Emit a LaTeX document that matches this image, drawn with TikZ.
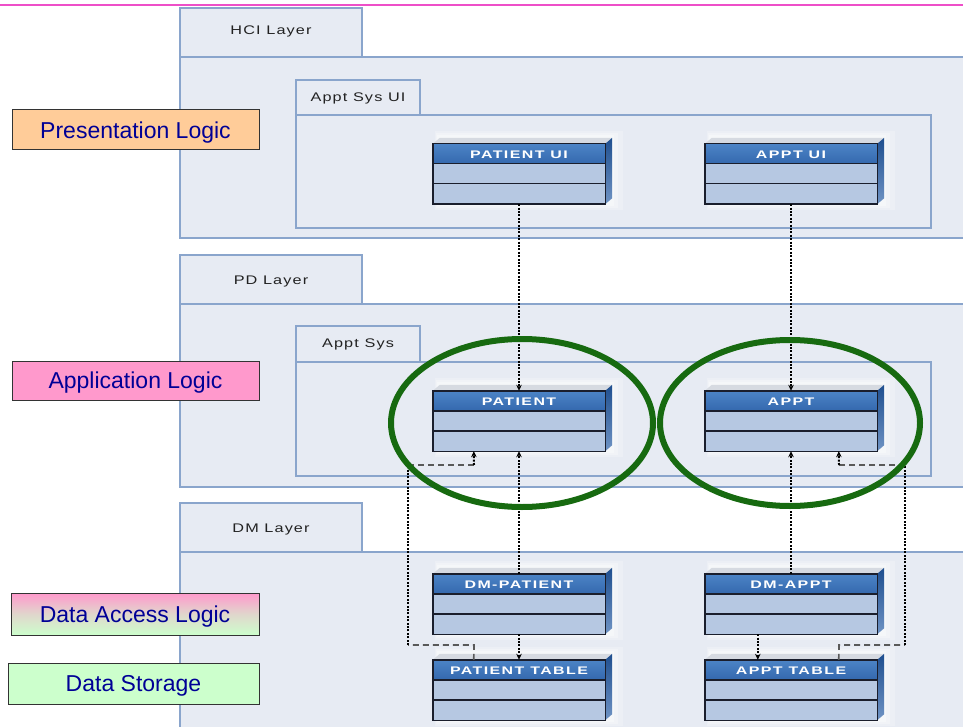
\documentclass[tikz,border=0pt]{standalone}
\usepackage{fontspec}
\setmainfont{Liberation Sans}
\newfontfamily\tabfont{Liberation Sans}[FakeStretch=1.3,LetterSpace=9]
\newfontfamily\headfont{Liberation Sans}[FakeStretch=1.45,LetterSpace=13]
\usetikzlibrary{arrows.meta,calc}

\definecolor{layerfill}{HTML}{E7EBF3}
\definecolor{layerline}{HTML}{8AA5CC}
\definecolor{headblue}{HTML}{3468AE}
\definecolor{headtop}{HTML}{4C84C6}
\definecolor{rowblue}{HTML}{B6C8E2}
\definecolor{sidetop}{HTML}{1F4F8F}
\definecolor{sidebot}{HTML}{6F93C4}
\definecolor{topface}{HTML}{D6DAE1}
\definecolor{edgedark}{HTML}{1A1E2C}
\definecolor{ringgreen}{HTML}{176A10}
\definecolor{labtext}{HTML}{000096}
\definecolor{peach}{HTML}{FFCC99}
\definecolor{pinklab}{HTML}{FF99CC}
\definecolor{greenlab}{HTML}{CCFFCC}
\definecolor{topline}{HTML}{EE4FC8}
\definecolor{tabtextcol}{HTML}{222222}

\tikzset{
  layerbox/.style={fill=layerfill,draw=layerline,line width=1.3pt},
  tabtext/.style={font=\tabfont\fontsize{12.5}{14}\selectfont,text=tabtextcol,inner sep=0pt},
  classframe/.style={rectangle,minimum width=172pt,minimum height=60pt,inner sep=0pt},
  classedge/.style={draw=edgedark,line width=1.4pt},
  classtitle/.style={font=\headfont\bfseries\fontsize{11}{12}\selectfont,text=white,inner sep=0pt},
  dotconn/.style={line width=2pt,dash pattern=on 2pt off 1.4pt,black},
  dashconn/.style={line width=1.7pt,dash pattern=on 6pt off 4pt,black!65},
  tip/.style={-{Stealth[length=6pt,width=5.5pt]}},
  ring/.style={draw=ringgreen,line width=6pt},
  logiclabel/.style={draw=black!80,line width=1pt,text=labtext,
    font=\fontsize{23}{27}\selectfont,inner sep=0pt,minimum height=40pt}
}

% tier label text, set a little below the box centre
\newcommand{\tiertext}[1]{\raisebox{-2.2pt}[17pt][5pt]{#1}}

% UML class block: name, centre, title
\newcommand{\umlclass}[3]{%
  \path (#2) node[classframe] (#1) {};
  % soft light haze behind the block
  \fill[white,opacity=0.22] ($(#1.north west)+(2,-13)$) rectangle ($(#1.south east)+(18,6)$);
  \fill[white,opacity=0.28] ($(#1.north west)+(3,-11)$) rectangle ($(#1.south east)+(13,4)$);
  \fill[white,opacity=0.35] ($(#1.north west)+(4,-9)$) rectangle ($(#1.south east)+(9,2)$);
  \fill[topface] (#1.north west) -- ++(7,-6) -- ($(#1.north east)+(7,-6)$) -- (#1.north east) -- cycle;
  \shade[top color=sidetop,bottom color=sidebot] (#1.north east) -- ++(7,-6) -- ($(#1.south east)+(7,-6)$) -- (#1.south east) -- cycle;
  \fill[rowblue] (#1.north west) rectangle (#1.south east);
  \shade[top color=headtop,bottom color=headblue] (#1.north west) rectangle ($(#1.north east)+(0,20)$);
  \draw[classedge] ($(#1.north west)+(0,20)$) -- ($(#1.north east)+(0,20)$);
  \draw[classedge] ($(#1.north west)+(0,40)$) -- ($(#1.north east)+(0,40)$);
  \draw[classedge] (#1.north west) rectangle (#1.south east);
  \node[classtitle] at ($(#1.north)+(0,10.5)$) {#3};
}

\begin{document}
\begin{tikzpicture}[x=1pt,y=-1pt]
\useasboundingbox (0,0) rectangle (963,727);
\begin{scope}
\clip (0,0) rectangle (963,727);

% rule along the top edge
\draw[topline,line width=1.5pt] (0,5) -- (963,5);

% HCI layer
\draw[layerbox] (180,8) rectangle (362,57);
\draw[layerbox] (180,57) rectangle (975,238);
\node[tabtext] (hci) at (271,31) {HCI Layer};
% PD layer
\draw[layerbox] (180,255) rectangle (362,304);
\draw[layerbox] (180,304) rectangle (975,487);
\node[tabtext] (pd) at (271,281) {PD Layer};
% DM layer
\draw[layerbox] (180,503) rectangle (362,552);
\draw[layerbox] (180,552) rectangle (975,740);
\node[tabtext] (dm) at (271,529) {DM Layer};

% packages
\draw[layerbox] (296,80) rectangle (420,115);
\draw[layerbox] (296,115) rectangle (931,228);
\node[tabtext] (uipkg) at (358,98) {Appt Sys UI};
\draw[layerbox] (296,326) rectangle (420,362);
\draw[layerbox] (296,362) rectangle (931,476);
\node[tabtext] (syspkg) at (358,344) {Appt Sys};

% classes
\umlclass{pui}{519,174}{PATIENT UI}
\umlclass{aui}{791,174}{APPT UI}
\umlclass{pat}{519,421}{PATIENT}
\umlclass{appt}{791,421}{APPT}
\umlclass{dmp}{519,604}{DM-PATIENT}
\umlclass{dma}{791,604}{DM-APPT}
\umlclass{ptab}{519,690}{PATIENT TABLE}
\umlclass{atab}{791,690}{APPT TABLE}

% straight dependencies
\draw[dotconn,tip] (pui.south) -- (pat.north);
\draw[dotconn,tip] (aui.south) -- (appt.north);
\draw[dotconn,tip] (dmp.north) -- (pat.south);
\draw[dotconn,tip] (dma.north) -- (appt.south);
\draw[dotconn,tip] (dmp.south) -- (ptab.north);
\coordinate (dmaout) at ($(dma.south west)+(53,0)$);
\coordinate (atabin) at ($(atab.north west)+(53,0)$);
\draw[dotconn,tip] (dmaout) -- (atabin);

% elbow links from the tables back up to the domain classes
\coordinate (pin)  at ($(pat.south west)+(41,0)$);
\coordinate (pbot) at ($(ptab.north west)+(41,0)$);
\coordinate (pc1) at (474,645);
\coordinate (pc2) at (408,645);
\coordinate (pc3) at (408,465);
\coordinate (pc4) at (474,465);
\draw[dashconn] (pbot) -- (pc1) -- (pc2);
\draw[dotconn] (pc2) -- (pc3);
\draw[dashconn] (pc3) -- (pc4);
\draw[dotconn,tip] (pc4) -- (pin);

\coordinate (ain)  at ($(appt.south west)+(134,0)$);
\coordinate (abot) at ($(atab.north west)+(134,0)$);
\coordinate (ac1) at (839,645);
\coordinate (ac2) at (905,645);
\coordinate (ac3) at (905,465);
\coordinate (ac4) at (839,465);
\draw[dashconn] (abot) -- (ac1) -- (ac2);
\draw[dotconn] (ac2) -- (ac3);
\draw[dashconn] (ac3) -- (ac4);
\draw[dotconn,tip] (ac4) -- (ain);

% highlight rings
\draw[ring] (522,423) ellipse [x radius=131, y radius=84];
\draw[ring] (790,423) ellipse [x radius=130, y radius=83];

% logic tier labels
\node[logiclabel,fill=peach,minimum width=247pt] (pres) at (135.5,130) {\tiertext{Presentation Logic}};
\node[logiclabel,fill=pinklab,minimum width=247pt,minimum height=39pt] (app) at (135.5,380.5) {\tiertext{Application Logic}};
\node[logiclabel,top color=pinklab,bottom color=greenlab,middle color=greenlab!60!pinklab,
      minimum width=248pt,minimum height=42pt] (dal) at (135,614) {\tiertext{Data Access Logic}};
\node[logiclabel,fill=greenlab,minimum width=251pt,minimum height=41pt] (store) at (133.5,683.5) {\tiertext{Data Storage}};
\end{scope}
\end{tikzpicture}
\end{document}
